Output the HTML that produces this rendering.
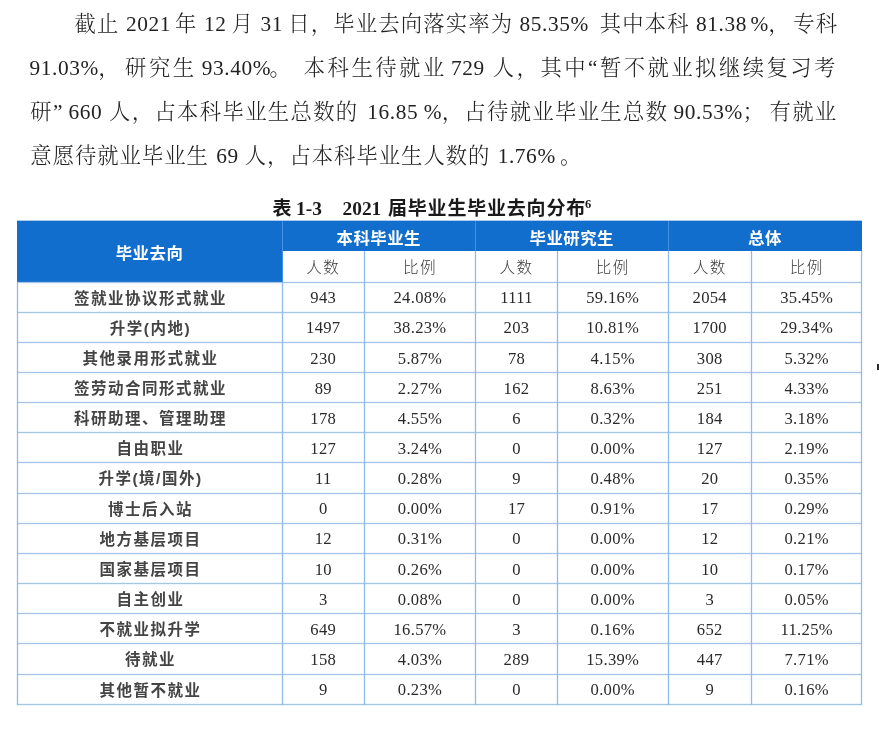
<!DOCTYPE html>
<html lang="zh-CN">
<head>
<meta charset="utf-8">
<title>毕业去向分布</title>
<style>
html,body{margin:0;padding:0;background:#fff;}
body{width:879px;height:739px;position:relative;overflow:hidden;
  font-family:"Liberation Serif","Noto Serif CJK SC",serif;color:#222;}
#pg{position:absolute;left:0;top:0;width:879px;height:739px;filter:blur(0.5px);}
.ln{position:absolute;white-space:nowrap;font-size:21.33px;line-height:30px;height:30px;
  color:#222;font-weight:300;}
.ln .e{letter-spacing:0.6px;font-weight:400;}
.cap{position:absolute;left:0;top:196.5px;width:879px;height:24px;}
.cap span,.cap sup{position:absolute;top:0;line-height:24px;white-space:nowrap;font-weight:bold;color:#1a1a1a;}
.cap .c{font-family:"Liberation Sans","Noto Sans CJK SC",sans-serif;font-size:19px;letter-spacing:0.8px;}
.cap .e{font-family:"Liberation Serif",serif;font-size:19.4px;}
.cap sup{font-family:"Liberation Serif",serif;font-size:12.5px;top:-5px;}
.bl,.th,.sh,.lab,.n,.hl,.vl,.vlb,.tl{position:absolute;text-align:center;white-space:nowrap;overflow:visible;}
.bl{background:#126ecc;}
.th{color:#fff;font-family:"Liberation Sans","Noto Sans CJK SC",sans-serif;font-weight:bold;font-size:16.4px;letter-spacing:0.5px;}
.sh{color:#3c3c3c;font-family:"Liberation Sans","Noto Sans CJK SC",sans-serif;font-weight:300;font-size:15.6px;letter-spacing:1.3px;}
.lab{color:#444;font-family:"Liberation Sans","Noto Sans CJK SC",sans-serif;font-weight:bold;font-size:15.5px;letter-spacing:1.5px;text-indent:2px;}
.n{color:#2a2a2a;font-family:"Liberation Serif",serif;font-size:16.6px;letter-spacing:0.3px;}
.hl{background:#a5c5e6;box-shadow:0 0 1.5px rgba(150,190,230,.8);}
.vl{background:#90bbe9;box-shadow:0 0 1.5px rgba(144,187,233,.8);}
.vlb{background:#4490e4;}
.tl{background:#126ecc;opacity:.35;}
.dot{position:absolute;left:877px;top:363.5px;width:3px;height:6px;background:#2a2a2a;}
</style>
</head>
<body>
<div id="pg">
<div class="ln" style="left:74.6px;top:9px;letter-spacing:1.17px;word-spacing:-0.13px">截止 <span class="e" style="margin-right:-2.4px">2021</span> 年 <span class="e" style="margin-right:-1.2px">12</span> 月 <span class="e" style="margin-right:-1.2px">31</span> 日，毕业去向落实率为 <span class="e" style="margin-right:-3.6px">85.35%</span> <i style="margin-left:8px"></i>其中本科 <span class="e" style="margin-right:-3.0px">81.38</span> <span class="e" style="margin-right:-0.6px">%</span>，<i style="margin-left:2.5px"></i>专科</div>
<div class="ln" style="left:29.5px;top:53px;letter-spacing:2.47px;word-spacing:0.06px"><span class="e" style="margin-right:-3.6px">91.03%</span><i style="margin-left:3px"></i>，<i style="margin-left:3px"></i>研究生 <i style="margin-left:-2.5px"></i><span class="e" style="margin-right:-3.6px">93.40%</span><i style="margin-left:2px"></i>。 <i style="margin-left:2.5px"></i>本科生待就业 <i style="margin-left:-3.5px"></i><span class="e" style="margin-right:-1.8px">729</span><i style="margin-left:2px"></i> 人，其中“暂不就业拟继续复习考</div>
<div class="ln" style="left:30.3px;top:97px;letter-spacing:1.35px;word-spacing:1.96px">研” <i style="margin-left:-4px"></i><span class="e" style="margin-right:-1.8px">660</span> 人，占本科毕业生总数的 <span class="e" style="margin-right:-3.0px">16.85</span> <span class="e" style="margin-right:-0.6px">%</span>，占待就业毕业生总数 <i style="margin-left:-3.5px"></i><span class="e" style="margin-right:-3.6px">90.53%</span><i style="margin-left:3.5px"></i>；<i style="margin-left:4px"></i>有就业</div>
<div class="ln" style="left:30.3px;top:141px;letter-spacing:1.0px;word-spacing:0.92px">意愿待就业毕业生 <span class="e" style="margin-right:-1.2px">69</span> 人，占本科毕业生人数的 <span class="e" style="margin-right:-3.0px">1.76%</span> 。</div>
<div class="cap"><span class="c" style="left:272.5px">表</span><span class="e" style="left:296px">1-3</span><span class="e" style="left:342.5px">2021</span><span class="c" style="left:388px">届毕业生毕业去向分布</span><sup style="left:585px">6</sup></div>
<!--TB-->
<div class="bl" style="left:17.00px;top:221.20px;width:265.00px;height:60.80px;line-height:60.80px;"></div>
<div class="bl" style="left:282.00px;top:221.20px;width:579.90px;height:30.20px;line-height:30.20px;"></div>
<div class="th" style="left:17.00px;top:223.00px;width:265.00px;height:60.80px;line-height:60.80px;">毕业去向</div>
<div class="th" style="left:282.00px;top:223.00px;width:193.50px;height:30.20px;line-height:30.20px;">本科毕业生</div>
<div class="th" style="left:475.50px;top:223.00px;width:192.50px;height:30.20px;line-height:30.20px;">毕业研究生</div>
<div class="th" style="left:668.00px;top:223.00px;width:193.90px;height:30.20px;line-height:30.20px;">总体</div>
<div class="sh" style="left:282.00px;top:252.90px;width:82.50px;height:30.60px;line-height:30.60px;">人数</div>
<div class="sh" style="left:364.50px;top:252.90px;width:111.00px;height:30.60px;line-height:30.60px;">比例</div>
<div class="sh" style="left:475.50px;top:252.90px;width:82.00px;height:30.60px;line-height:30.60px;">人数</div>
<div class="sh" style="left:557.50px;top:252.90px;width:110.50px;height:30.60px;line-height:30.60px;">比例</div>
<div class="sh" style="left:668.00px;top:252.90px;width:83.50px;height:30.60px;line-height:30.60px;">人数</div>
<div class="sh" style="left:751.50px;top:252.90px;width:110.40px;height:30.60px;line-height:30.60px;">比例</div>
<div class="lab" style="left:17.00px;top:283.50px;width:265.00px;height:30.16px;line-height:30.16px;">签就业协议形式就业</div>
<div class="n" style="left:282.00px;top:283.20px;width:82.50px;height:30.16px;line-height:30.16px;">943</div>
<div class="n" style="left:364.50px;top:283.20px;width:111.00px;height:30.16px;line-height:30.16px;">24.08%</div>
<div class="n" style="left:475.50px;top:283.20px;width:82.00px;height:30.16px;line-height:30.16px;">1111</div>
<div class="n" style="left:557.50px;top:283.20px;width:110.50px;height:30.16px;line-height:30.16px;">59.16%</div>
<div class="n" style="left:668.00px;top:283.20px;width:83.50px;height:30.16px;line-height:30.16px;">2054</div>
<div class="n" style="left:751.50px;top:283.20px;width:110.40px;height:30.16px;line-height:30.16px;">35.45%</div>
<div class="lab" style="left:17.00px;top:313.66px;width:265.00px;height:30.16px;line-height:30.16px;">升学(内地)</div>
<div class="n" style="left:282.00px;top:313.36px;width:82.50px;height:30.16px;line-height:30.16px;">1497</div>
<div class="n" style="left:364.50px;top:313.36px;width:111.00px;height:30.16px;line-height:30.16px;">38.23%</div>
<div class="n" style="left:475.50px;top:313.36px;width:82.00px;height:30.16px;line-height:30.16px;">203</div>
<div class="n" style="left:557.50px;top:313.36px;width:110.50px;height:30.16px;line-height:30.16px;">10.81%</div>
<div class="n" style="left:668.00px;top:313.36px;width:83.50px;height:30.16px;line-height:30.16px;">1700</div>
<div class="n" style="left:751.50px;top:313.36px;width:110.40px;height:30.16px;line-height:30.16px;">29.34%</div>
<div class="lab" style="left:17.00px;top:343.82px;width:265.00px;height:30.16px;line-height:30.16px;">其他录用形式就业</div>
<div class="n" style="left:282.00px;top:343.52px;width:82.50px;height:30.16px;line-height:30.16px;">230</div>
<div class="n" style="left:364.50px;top:343.52px;width:111.00px;height:30.16px;line-height:30.16px;">5.87%</div>
<div class="n" style="left:475.50px;top:343.52px;width:82.00px;height:30.16px;line-height:30.16px;">78</div>
<div class="n" style="left:557.50px;top:343.52px;width:110.50px;height:30.16px;line-height:30.16px;">4.15%</div>
<div class="n" style="left:668.00px;top:343.52px;width:83.50px;height:30.16px;line-height:30.16px;">308</div>
<div class="n" style="left:751.50px;top:343.52px;width:110.40px;height:30.16px;line-height:30.16px;">5.32%</div>
<div class="lab" style="left:17.00px;top:373.98px;width:265.00px;height:30.16px;line-height:30.16px;">签劳动合同形式就业</div>
<div class="n" style="left:282.00px;top:373.68px;width:82.50px;height:30.16px;line-height:30.16px;">89</div>
<div class="n" style="left:364.50px;top:373.68px;width:111.00px;height:30.16px;line-height:30.16px;">2.27%</div>
<div class="n" style="left:475.50px;top:373.68px;width:82.00px;height:30.16px;line-height:30.16px;">162</div>
<div class="n" style="left:557.50px;top:373.68px;width:110.50px;height:30.16px;line-height:30.16px;">8.63%</div>
<div class="n" style="left:668.00px;top:373.68px;width:83.50px;height:30.16px;line-height:30.16px;">251</div>
<div class="n" style="left:751.50px;top:373.68px;width:110.40px;height:30.16px;line-height:30.16px;">4.33%</div>
<div class="lab" style="left:17.00px;top:404.14px;width:265.00px;height:30.16px;line-height:30.16px;">科研助理、管理助理</div>
<div class="n" style="left:282.00px;top:403.84px;width:82.50px;height:30.16px;line-height:30.16px;">178</div>
<div class="n" style="left:364.50px;top:403.84px;width:111.00px;height:30.16px;line-height:30.16px;">4.55%</div>
<div class="n" style="left:475.50px;top:403.84px;width:82.00px;height:30.16px;line-height:30.16px;">6</div>
<div class="n" style="left:557.50px;top:403.84px;width:110.50px;height:30.16px;line-height:30.16px;">0.32%</div>
<div class="n" style="left:668.00px;top:403.84px;width:83.50px;height:30.16px;line-height:30.16px;">184</div>
<div class="n" style="left:751.50px;top:403.84px;width:110.40px;height:30.16px;line-height:30.16px;">3.18%</div>
<div class="lab" style="left:17.00px;top:434.30px;width:265.00px;height:30.16px;line-height:30.16px;">自由职业</div>
<div class="n" style="left:282.00px;top:434.00px;width:82.50px;height:30.16px;line-height:30.16px;">127</div>
<div class="n" style="left:364.50px;top:434.00px;width:111.00px;height:30.16px;line-height:30.16px;">3.24%</div>
<div class="n" style="left:475.50px;top:434.00px;width:82.00px;height:30.16px;line-height:30.16px;">0</div>
<div class="n" style="left:557.50px;top:434.00px;width:110.50px;height:30.16px;line-height:30.16px;">0.00%</div>
<div class="n" style="left:668.00px;top:434.00px;width:83.50px;height:30.16px;line-height:30.16px;">127</div>
<div class="n" style="left:751.50px;top:434.00px;width:110.40px;height:30.16px;line-height:30.16px;">2.19%</div>
<div class="lab" style="left:17.00px;top:464.46px;width:265.00px;height:30.16px;line-height:30.16px;">升学(境/国外)</div>
<div class="n" style="left:282.00px;top:464.16px;width:82.50px;height:30.16px;line-height:30.16px;">11</div>
<div class="n" style="left:364.50px;top:464.16px;width:111.00px;height:30.16px;line-height:30.16px;">0.28%</div>
<div class="n" style="left:475.50px;top:464.16px;width:82.00px;height:30.16px;line-height:30.16px;">9</div>
<div class="n" style="left:557.50px;top:464.16px;width:110.50px;height:30.16px;line-height:30.16px;">0.48%</div>
<div class="n" style="left:668.00px;top:464.16px;width:83.50px;height:30.16px;line-height:30.16px;">20</div>
<div class="n" style="left:751.50px;top:464.16px;width:110.40px;height:30.16px;line-height:30.16px;">0.35%</div>
<div class="lab" style="left:17.00px;top:494.62px;width:265.00px;height:30.16px;line-height:30.16px;">博士后入站</div>
<div class="n" style="left:282.00px;top:494.32px;width:82.50px;height:30.16px;line-height:30.16px;">0</div>
<div class="n" style="left:364.50px;top:494.32px;width:111.00px;height:30.16px;line-height:30.16px;">0.00%</div>
<div class="n" style="left:475.50px;top:494.32px;width:82.00px;height:30.16px;line-height:30.16px;">17</div>
<div class="n" style="left:557.50px;top:494.32px;width:110.50px;height:30.16px;line-height:30.16px;">0.91%</div>
<div class="n" style="left:668.00px;top:494.32px;width:83.50px;height:30.16px;line-height:30.16px;">17</div>
<div class="n" style="left:751.50px;top:494.32px;width:110.40px;height:30.16px;line-height:30.16px;">0.29%</div>
<div class="lab" style="left:17.00px;top:524.78px;width:265.00px;height:30.16px;line-height:30.16px;">地方基层项目</div>
<div class="n" style="left:282.00px;top:524.48px;width:82.50px;height:30.16px;line-height:30.16px;">12</div>
<div class="n" style="left:364.50px;top:524.48px;width:111.00px;height:30.16px;line-height:30.16px;">0.31%</div>
<div class="n" style="left:475.50px;top:524.48px;width:82.00px;height:30.16px;line-height:30.16px;">0</div>
<div class="n" style="left:557.50px;top:524.48px;width:110.50px;height:30.16px;line-height:30.16px;">0.00%</div>
<div class="n" style="left:668.00px;top:524.48px;width:83.50px;height:30.16px;line-height:30.16px;">12</div>
<div class="n" style="left:751.50px;top:524.48px;width:110.40px;height:30.16px;line-height:30.16px;">0.21%</div>
<div class="lab" style="left:17.00px;top:554.94px;width:265.00px;height:30.16px;line-height:30.16px;">国家基层项目</div>
<div class="n" style="left:282.00px;top:554.64px;width:82.50px;height:30.16px;line-height:30.16px;">10</div>
<div class="n" style="left:364.50px;top:554.64px;width:111.00px;height:30.16px;line-height:30.16px;">0.26%</div>
<div class="n" style="left:475.50px;top:554.64px;width:82.00px;height:30.16px;line-height:30.16px;">0</div>
<div class="n" style="left:557.50px;top:554.64px;width:110.50px;height:30.16px;line-height:30.16px;">0.00%</div>
<div class="n" style="left:668.00px;top:554.64px;width:83.50px;height:30.16px;line-height:30.16px;">10</div>
<div class="n" style="left:751.50px;top:554.64px;width:110.40px;height:30.16px;line-height:30.16px;">0.17%</div>
<div class="lab" style="left:17.00px;top:585.10px;width:265.00px;height:30.16px;line-height:30.16px;">自主创业</div>
<div class="n" style="left:282.00px;top:584.80px;width:82.50px;height:30.16px;line-height:30.16px;">3</div>
<div class="n" style="left:364.50px;top:584.80px;width:111.00px;height:30.16px;line-height:30.16px;">0.08%</div>
<div class="n" style="left:475.50px;top:584.80px;width:82.00px;height:30.16px;line-height:30.16px;">0</div>
<div class="n" style="left:557.50px;top:584.80px;width:110.50px;height:30.16px;line-height:30.16px;">0.00%</div>
<div class="n" style="left:668.00px;top:584.80px;width:83.50px;height:30.16px;line-height:30.16px;">3</div>
<div class="n" style="left:751.50px;top:584.80px;width:110.40px;height:30.16px;line-height:30.16px;">0.05%</div>
<div class="lab" style="left:17.00px;top:615.26px;width:265.00px;height:30.16px;line-height:30.16px;">不就业拟升学</div>
<div class="n" style="left:282.00px;top:614.96px;width:82.50px;height:30.16px;line-height:30.16px;">649</div>
<div class="n" style="left:364.50px;top:614.96px;width:111.00px;height:30.16px;line-height:30.16px;">16.57%</div>
<div class="n" style="left:475.50px;top:614.96px;width:82.00px;height:30.16px;line-height:30.16px;">3</div>
<div class="n" style="left:557.50px;top:614.96px;width:110.50px;height:30.16px;line-height:30.16px;">0.16%</div>
<div class="n" style="left:668.00px;top:614.96px;width:83.50px;height:30.16px;line-height:30.16px;">652</div>
<div class="n" style="left:751.50px;top:614.96px;width:110.40px;height:30.16px;line-height:30.16px;">11.25%</div>
<div class="lab" style="left:17.00px;top:645.42px;width:265.00px;height:30.16px;line-height:30.16px;">待就业</div>
<div class="n" style="left:282.00px;top:645.12px;width:82.50px;height:30.16px;line-height:30.16px;">158</div>
<div class="n" style="left:364.50px;top:645.12px;width:111.00px;height:30.16px;line-height:30.16px;">4.03%</div>
<div class="n" style="left:475.50px;top:645.12px;width:82.00px;height:30.16px;line-height:30.16px;">289</div>
<div class="n" style="left:557.50px;top:645.12px;width:110.50px;height:30.16px;line-height:30.16px;">15.39%</div>
<div class="n" style="left:668.00px;top:645.12px;width:83.50px;height:30.16px;line-height:30.16px;">447</div>
<div class="n" style="left:751.50px;top:645.12px;width:110.40px;height:30.16px;line-height:30.16px;">7.71%</div>
<div class="lab" style="left:17.00px;top:675.58px;width:265.00px;height:30.16px;line-height:30.16px;">其他暂不就业</div>
<div class="n" style="left:282.00px;top:675.28px;width:82.50px;height:30.16px;line-height:30.16px;">9</div>
<div class="n" style="left:364.50px;top:675.28px;width:111.00px;height:30.16px;line-height:30.16px;">0.23%</div>
<div class="n" style="left:475.50px;top:675.28px;width:82.00px;height:30.16px;line-height:30.16px;">0</div>
<div class="n" style="left:557.50px;top:675.28px;width:110.50px;height:30.16px;line-height:30.16px;">0.00%</div>
<div class="n" style="left:668.00px;top:675.28px;width:83.50px;height:30.16px;line-height:30.16px;">9</div>
<div class="n" style="left:751.50px;top:675.28px;width:110.40px;height:30.16px;line-height:30.16px;">0.16%</div>
<div class="hl" style="left:16.50px;top:281.50px;width:845.90px;height:1.00px;line-height:1.00px;"></div>
<div class="hl" style="left:16.50px;top:311.66px;width:845.90px;height:1.00px;line-height:1.00px;"></div>
<div class="hl" style="left:16.50px;top:341.82px;width:845.90px;height:1.00px;line-height:1.00px;"></div>
<div class="hl" style="left:16.50px;top:371.98px;width:845.90px;height:1.00px;line-height:1.00px;"></div>
<div class="hl" style="left:16.50px;top:402.14px;width:845.90px;height:1.00px;line-height:1.00px;"></div>
<div class="hl" style="left:16.50px;top:432.30px;width:845.90px;height:1.00px;line-height:1.00px;"></div>
<div class="hl" style="left:16.50px;top:462.46px;width:845.90px;height:1.00px;line-height:1.00px;"></div>
<div class="hl" style="left:16.50px;top:492.62px;width:845.90px;height:1.00px;line-height:1.00px;"></div>
<div class="hl" style="left:16.50px;top:522.78px;width:845.90px;height:1.00px;line-height:1.00px;"></div>
<div class="hl" style="left:16.50px;top:552.94px;width:845.90px;height:1.00px;line-height:1.00px;"></div>
<div class="hl" style="left:16.50px;top:583.10px;width:845.90px;height:1.00px;line-height:1.00px;"></div>
<div class="hl" style="left:16.50px;top:613.26px;width:845.90px;height:1.00px;line-height:1.00px;"></div>
<div class="hl" style="left:16.50px;top:643.42px;width:845.90px;height:1.00px;line-height:1.00px;"></div>
<div class="hl" style="left:16.50px;top:673.58px;width:845.90px;height:1.00px;line-height:1.00px;"></div>
<div class="hl" style="left:16.50px;top:703.74px;width:845.90px;height:1.00px;line-height:1.00px;"></div>
<div class="tl" style="left:16.50px;top:220.20px;width:845.90px;height:1.00px;line-height:1.00px;"></div>
<div class="vl" style="left:16.50px;top:282.00px;width:1.00px;height:423.24px;line-height:423.24px;"></div>
<div class="vl" style="left:281.50px;top:282.00px;width:1.00px;height:423.24px;line-height:423.24px;"></div>
<div class="vl" style="left:364.00px;top:251.40px;width:1.00px;height:453.84px;line-height:453.84px;"></div>
<div class="vl" style="left:475.00px;top:282.00px;width:1.00px;height:423.24px;line-height:423.24px;"></div>
<div class="vl" style="left:557.00px;top:251.40px;width:1.00px;height:453.84px;line-height:453.84px;"></div>
<div class="vl" style="left:667.50px;top:282.00px;width:1.00px;height:423.24px;line-height:423.24px;"></div>
<div class="vl" style="left:751.00px;top:251.40px;width:1.00px;height:453.84px;line-height:453.84px;"></div>
<div class="vl" style="left:861.40px;top:282.00px;width:1.00px;height:423.24px;line-height:423.24px;"></div>
<div class="vlb" style="left:281.50px;top:221.20px;width:1.00px;height:30.20px;line-height:30.20px;"></div>
<div class="vlb" style="left:281.50px;top:251.40px;width:1.00px;height:30.60px;line-height:30.60px;"></div>
<div class="vlb" style="left:475.00px;top:221.20px;width:1.00px;height:30.20px;line-height:30.20px;"></div>
<div class="vl" style="left:475.00px;top:251.40px;width:1.00px;height:30.60px;line-height:30.60px;"></div>
<div class="vlb" style="left:667.50px;top:221.20px;width:1.00px;height:30.20px;line-height:30.20px;"></div>
<div class="vl" style="left:667.50px;top:251.40px;width:1.00px;height:30.60px;line-height:30.60px;"></div>
<div class="vl" style="left:861.40px;top:251.40px;width:1.00px;height:30.60px;line-height:30.60px;"></div>
<!--/TB-->
<div class="dot"></div>
</div>
</body>
</html>
